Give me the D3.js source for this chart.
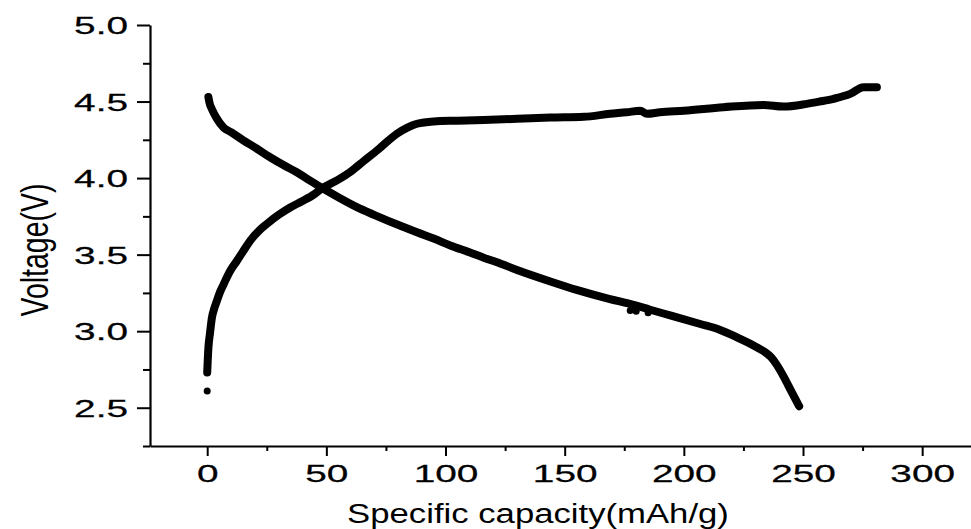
<!DOCTYPE html>
<html>
<head>
<meta charset="utf-8">
<script src="https://cdn.jsdelivr.net/npm/d3@7"></script>
<style>
  html, body { margin: 0; padding: 0; background: #fff; }
  svg { display: block; }
</style>
</head>
<body>
<svg id="chart" width="971" height="529"></svg>
<script>
// ---- Data ----
const chargeCapacity = [0, 0.5, 1.2, 2, 3, 4.1, 5.5, 7, 9.5, 12.5, 15, 18, 22, 25, 30, 35, 40, 45, 48, 55, 60, 65.6, 72, 79.6, 84, 88, 95, 105, 116, 130, 144, 158, 169, 176, 181.7, 184.5, 190, 200, 216.6, 233.4, 241.8, 251.6, 257, 262.8, 269.8, 275.4, 281];
const chargeVoltage  = [2.73, 2.89, 2.99, 3.09, 3.15, 3.20, 3.26, 3.31, 3.39, 3.46, 3.52, 3.59, 3.66, 3.70, 3.76, 3.81, 3.85, 3.895, 3.93, 3.99, 4.04, 4.11, 4.19, 4.29, 4.33, 4.355, 4.37, 4.375, 4.38, 4.387, 4.395, 4.40, 4.42, 4.43, 4.44, 4.42, 4.43, 4.44, 4.463, 4.478, 4.467, 4.485, 4.50, 4.518, 4.55, 4.594, 4.594];

const dischargeCapacity = [0.5, 1, 2, 4, 6.9, 10, 15.3, 20, 26.4, 32, 37.6, 43, 48.8, 55, 62.8, 70, 82.4, 88, 95, 102, 110, 116, 121.6, 130, 144, 155, 169, 177, 185.9, 195, 206.9, 215, 222.3, 230.7, 236.6, 239, 242, 245, 248.4];
const dischargeVoltage  = [4.53, 4.49, 4.45, 4.39, 4.33, 4.30, 4.245, 4.20, 4.136, 4.085, 4.038, 3.985, 3.93, 3.875, 3.81, 3.76, 3.68, 3.646, 3.605, 3.56, 3.515, 3.48, 3.45, 3.40, 3.325, 3.27, 3.21, 3.18, 3.14, 3.10, 3.047, 3.01, 2.96, 2.894, 2.83, 2.78, 2.70, 2.61, 2.51];

// stray measured points
const strayCapacity = [0, 177.5, 180, 185];
const strayVoltage  = [2.61, 3.135, 3.13, 3.12];

const xMajorTicks = [0, 50, 100, 150, 200, 250, 300];
const xMinorTicks = [25, 75, 125, 175, 225, 275];
const yMajorTicks = [2.5, 3.0, 3.5, 4.0, 4.5, 5.0];
const yMinorTicks = [2.25, 2.75, 3.25, 3.75, 4.25, 4.75];

const xTitle = "Specific capacity(mAh/g)";
const yTitle = "Voltage(V)";

// ---- Drawing ----
const FONT = "'Liberation Sans', Arial, Helvetica, sans-serif";
const svg = d3.select("#chart");

const x = d3.scaleLinear().domain([-24, 322]).range([150, 974.6]);
const y = d3.scaleLinear().domain([2.25, 5.0]).range([446, 25]);

const tickScale = 1.65;
const tickFont = 23.5;

// Y axis major
const yAxisG = svg.append("g")
  .attr("transform", `translate(${x.range()[0]},0)`)
  .call(d3.axisLeft(y).tickValues(yMajorTicks).tickSize(13).tickSizeOuter(0).tickPadding(9).tickFormat(d3.format(".1f")));
yAxisG.attr("font-size", tickFont).attr("font-family", FONT);
yAxisG.select(".domain").attr("stroke-width", 2.2);
yAxisG.selectAll(".tick line").attr("stroke-width", 2);
yAxisG.selectAll(".tick text").each(function () {
  const t = d3.select(this);
  const tx = +t.attr("x");
  t.attr("x", 0).attr("dy", "0.36em").attr("fill", "#000")
   .attr("stroke", "#000").attr("stroke-width", 0.25)
   .attr("transform", `translate(${tx},0) scale(${tickScale},1)`);
});

// Y axis minor
const yMinorG = svg.append("g")
  .attr("transform", `translate(${x.range()[0]},0)`)
  .call(d3.axisLeft(y).tickValues(yMinorTicks).tickSize(7).tickFormat(""));
yMinorG.select(".domain").remove();
yMinorG.selectAll(".tick line").attr("stroke-width", 2);

// X axis major
const xAxisG = svg.append("g")
  .attr("transform", `translate(0,${y.range()[0]})`)
  .call(d3.axisBottom(x).tickValues(xMajorTicks).tickSize(10).tickSizeOuter(0).tickFormat(d3.format("d")));
xAxisG.attr("font-size", tickFont).attr("font-family", FONT);
xAxisG.select(".domain").attr("stroke-width", 2.2);
xAxisG.selectAll(".tick line").attr("stroke-width", 2);
xAxisG.selectAll(".tick text")
  .attr("y", 36).attr("dy", 0).attr("fill", "#000")
  .attr("stroke", "#000").attr("stroke-width", 0.25)
  .attr("transform", `scale(${tickScale},1)`);

// X axis minor
const xMinorG = svg.append("g")
  .attr("transform", `translate(0,${y.range()[0]})`)
  .call(d3.axisBottom(x).tickValues(xMinorTicks).tickSize(5).tickFormat(""));
xMinorG.select(".domain").remove();
xMinorG.selectAll(".tick line").attr("stroke-width", 2);

// Titles
svg.append("text")
  .attr("transform", "translate(538,523) scale(1.24,1)")
  .attr("text-anchor", "middle")
  .attr("font-family", FONT)
  .attr("font-size", 28)
  .attr("fill", "#000")
  .text(xTitle);

svg.append("text")
  .attr("transform", "translate(48,250) rotate(-90) scale(1,1.35)")
  .attr("text-anchor", "middle")
  .attr("font-family", FONT)
  .attr("font-size", 28.5)
  .attr("fill", "#000")
  .text(yTitle);

// Curves
const line = d3.line()
  .x(d => x(d[0]))
  .y(d => y(d[1]))
  .curve(d3.curveMonotoneX);

const chargePts = chargeCapacity.map((c, i) => [c, chargeVoltage[i]]);
const dischargePts = dischargeCapacity.map((c, i) => [c, dischargeVoltage[i]]);

svg.append("path")
  .datum(chargePts)
  .attr("d", line)
  .attr("fill", "none")
  .attr("stroke", "#000")
  .attr("stroke-width", 8)
  .attr("stroke-linecap", "round")
  .attr("stroke-linejoin", "round");

svg.append("path")
  .datum(dischargePts)
  .attr("d", line)
  .attr("fill", "none")
  .attr("stroke", "#000")
  .attr("stroke-width", 8)
  .attr("stroke-linecap", "round")
  .attr("stroke-linejoin", "round");

svg.append("g").selectAll("circle")
  .data(strayCapacity.map((c, i) => [c, strayVoltage[i]]))
  .join("circle")
  .attr("cx", d => x(d[0]))
  .attr("cy", d => y(d[1]))
  .attr("r", 3.5)
  .attr("fill", "#000");
</script>
</body>
</html>
